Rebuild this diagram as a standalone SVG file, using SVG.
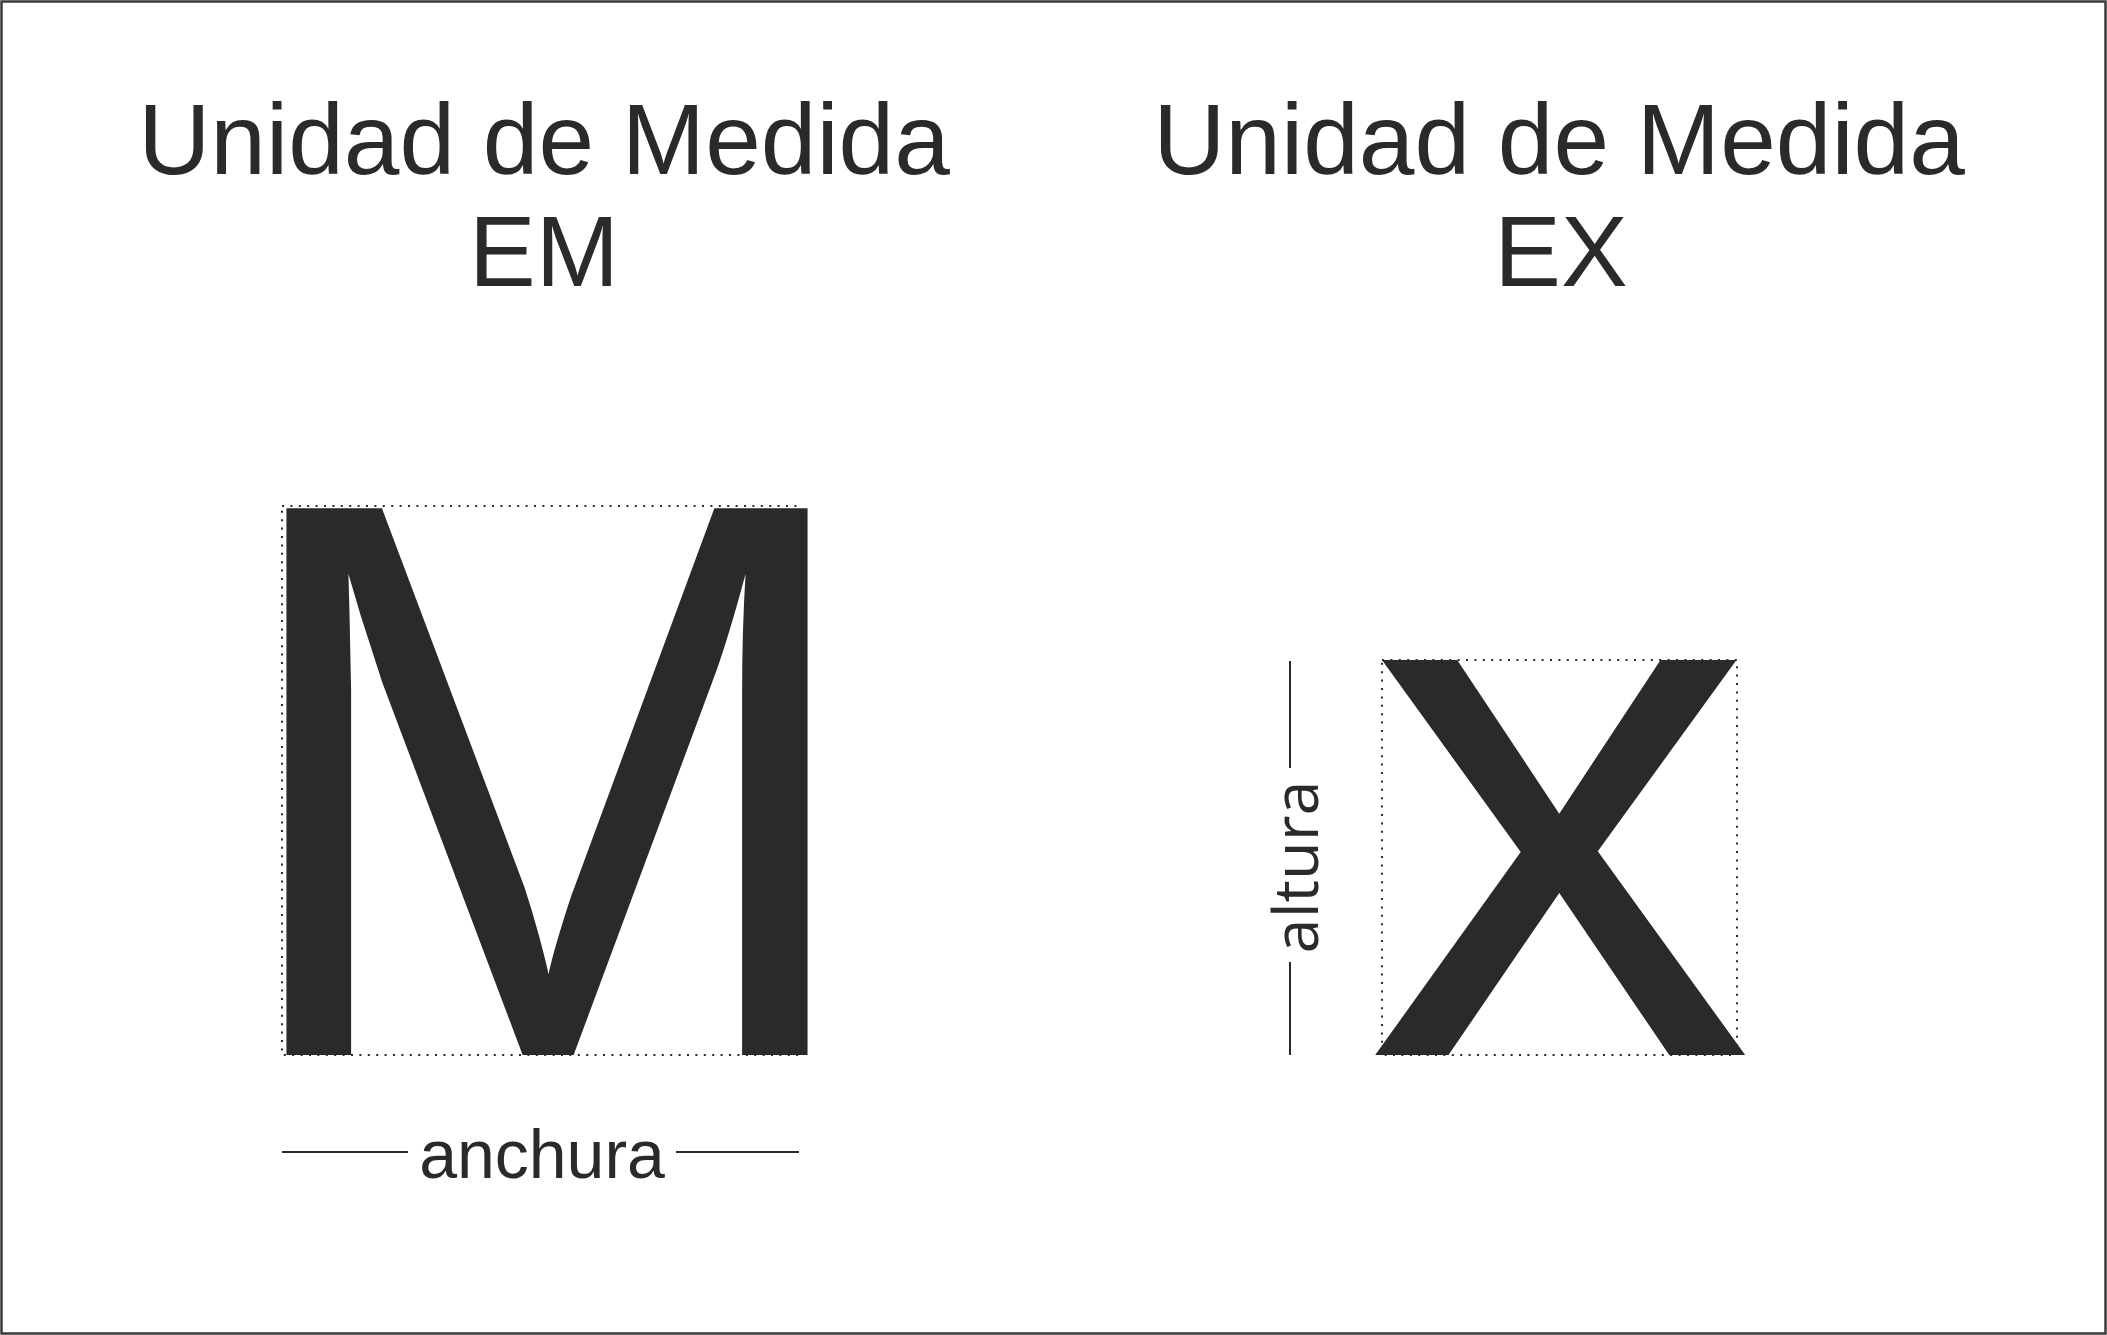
<svg xmlns="http://www.w3.org/2000/svg" width="2107" height="1335" viewBox="0 0 2107 1335">
<style>
.t{font-family:"Liberation Sans",Arial,sans-serif;fill:#2b2a28}
.title{font-size:100px;text-anchor:middle}
.bigm{font-size:779px;text-anchor:middle}
.bigx{font-size:774px;text-anchor:middle}
.lbl{font-size:68px;text-anchor:middle}
.lbl2{font-family:"Open Sans","DejaVu Sans",sans-serif;font-size:63px;text-anchor:middle;fill:#2b2a28}
.dot{fill:none;stroke:#2b2a28;stroke-width:2;stroke-dasharray:2 6.4}
.ln{stroke:#2b2a28;stroke-width:2;fill:none}
</style>
<rect x="1.5" y="1.5" width="2104" height="1332" fill="#ffffff" stroke="#3a3a3a" stroke-width="2.5"/>
<g id="em-title">
<text class="t title" x="544" y="174">Unidad de Medida</text>
<text class="t title" x="544" y="286">EM</text>
</g>
<g id="ex-title">
<text class="t title" x="1559" y="174">Unidad de Medida</text>
<text class="t title" x="1561" y="286">EX</text>
</g>
<g id="em-glyph">
<rect class="dot" x="282" y="506" width="517" height="549"/>
<text class="t bigm" transform="translate(547,1055) scale(1,1.02)">M</text>
</g>
<g id="ex-glyph">
<rect class="dot" x="1382" y="660" width="355" height="395"/>
<text class="t bigx" transform="translate(1560,1055) scale(1,0.966)">x</text>
</g>
<g id="connectors">
<line class="ln" x1="282" y1="1152" x2="408" y2="1152"/>
<line class="ln" x1="676" y1="1152" x2="799" y2="1152"/>
<line class="ln" x1="1290" y1="661" x2="1290" y2="768"/>
<line class="ln" x1="1290" y1="962" x2="1290" y2="1055"/>
</g>
<g id="anchura-label">
<text class="t lbl" x="542" y="1178">anchura</text>
</g>
<g id="altura-label">
<text class="lbl2" transform="translate(1318,867) rotate(-90)">altura</text>
</g>
</svg>
